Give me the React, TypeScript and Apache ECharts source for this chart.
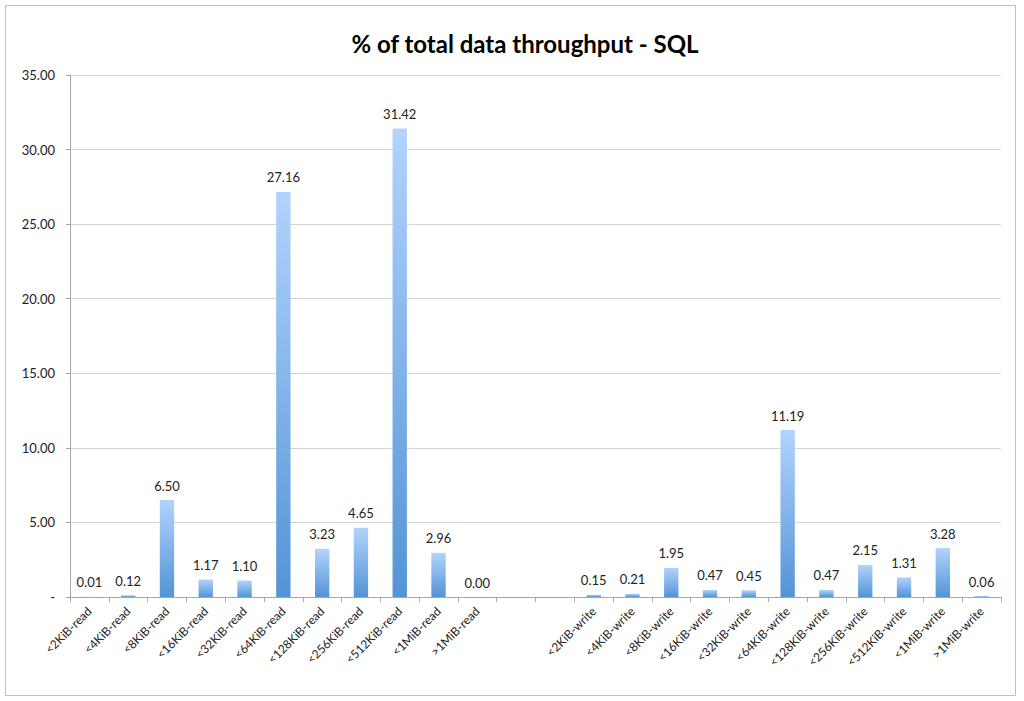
import React, { useEffect, useRef } from "react";
import * as echarts from "echarts";

const titleText = "% of total data throughput - SQL";
const readCategories = ["<2KiB-read", "<4KiB-read", "<8KiB-read", "<16KiB-read", "<32KiB-read", "<64KiB-read", "<128KiB-read", "<256KiB-read", "<512KiB-read", "<1MiB-read", ">1MiB-read"];
const gapCategories = ["", " "];
const writeCategories = ["<2KiB-write", "<4KiB-write", "<8KiB-write", "<16KiB-write", "<32KiB-write", "<64KiB-write", "<128KiB-write", "<256KiB-write", "<512KiB-write", "<1MiB-write", ">1MiB-write"];
const readValues = [0.01, 0.12, 6.5, 1.17, 1.1, 27.16, 3.23, 4.65, 31.42, 2.96, 0.0];
const gapValues: (number | null)[] = [null, null];
const writeValues = [0.15, 0.21, 1.95, 0.47, 0.45, 11.19, 0.47, 2.15, 1.31, 3.28, 0.06];
const yMin = 0;
const yMax = 35;
const yInterval = 5;

export default function App() {
  const ref = useRef<HTMLDivElement>(null);
  useEffect(() => {
    if (!ref.current) return;
    const chart = echarts.init(ref.current, undefined, { renderer: "svg" });
    const categories = [...readCategories, ...gapCategories, ...writeCategories];
    const values = [...readValues, ...gapValues, ...writeValues];
    const font = "Lato, 'Open Sans', sans-serif";
    chart.setOption({
      animation: false,
      backgroundColor: "#ffffff",
      textStyle: { fontFamily: font },
      title: {
        text: titleText,
        left: 520,
        textAlign: "center",
        top: 26,
        textStyle: { fontFamily: font, fontSize: 24, fontWeight: "bold", color: "#000" },
      },
      graphic: [
        {
          type: "rect",
          shape: { x: 5.5, y: 5.5, width: 1010, height: 690 },
          style: { fill: "none", stroke: "#bfbfbf", lineWidth: 1 },
          silent: true,
          z: -1,
        },
      ],
      grid: { left: 70, right: 23, top: 75, bottom: 104, containLabel: false },
      xAxis: {
        type: "category",
        data: categories,
        axisLine: { lineStyle: { color: "#a6a6a6" } },
        axisTick: { show: true, length: 5, alignWithLabel: false, lineStyle: { color: "#a6a6a6" } },
        axisLabel: {
          interval: 0,
          rotate: 45,
          fontSize: 12,
          color: "#222",
          margin: 12,
          fontFamily: font,
        },
        splitLine: { show: false },
      },
      yAxis: {
        type: "value",
        min: yMin,
        max: yMax,
        interval: yInterval,
        axisLine: { show: true, lineStyle: { color: "#a6a6a6" } },
        axisTick: { show: true, length: 4, lineStyle: { color: "#a6a6a6" } },
        axisLabel: {
          fontSize: 13,
          color: "#222",
          margin: 15,
          fontFamily: font,
          formatter: (v: number) => (v === 0 ? "-" : v.toFixed(2)),
        },
        splitLine: { show: true, lineStyle: { color: "#d4d4d4", width: 1 } },
      },
      series: [
        {
          type: "bar",
          data: values,
          barWidth: "37%",
          itemStyle: {
            color: new echarts.graphic.LinearGradient(0, 0, 0, 1, [
              { offset: 0, color: "#b2d3fc" },
              { offset: 1, color: "#5394d6" },
            ]),
          },
          label: {
            show: true,
            position: "top",
            distance: 8,
            fontSize: 13,
            color: "#222",
            fontFamily: font,
            formatter: (p: any) => (p.value == null ? "" : Number(p.value).toFixed(2)),
          },
        },
      ],
    });
    return () => chart.dispose();
  }, []);
  return (
    <div
      ref={ref}
      style={{ position: "fixed", left: 0, top: 0, width: 1024, height: 701 }}
    />
  );
}
